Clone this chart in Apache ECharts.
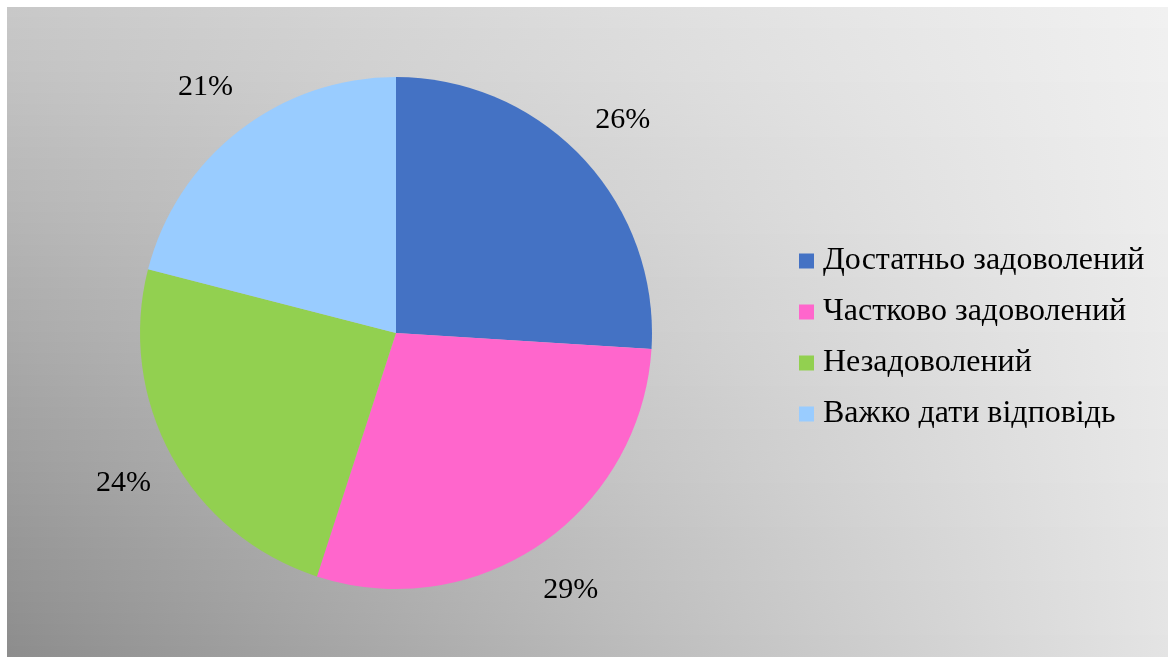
<!DOCTYPE html>
<html>
<head>
<meta charset="utf-8">
<script src="https://cdn.jsdelivr.net/npm/echarts@6/dist/echarts.min.js"></script>
<style>
  html, body { margin: 0; padding: 0; background: #ffffff; }
  #chart { width: 1168px; height: 657px; }
</style>
</head>
<body>
<div id="chart"></div>
<script>
// Survey answers: share of respondents by satisfaction level (%)
const categories = ['Достатньо задоволений', 'Частково задоволений', 'Незадоволений', 'Важко дати відповідь'];
const shares = [26, 29, 24, 21];
const sliceColors = ['#4472C4', '#FF66CC', '#92D050', '#99CCFF'];

const W = 1168, H = 657;
const panel = { x: 7, y: 7, w: W - 7, h: H - 7 };

// Grey panel shaded from dark lower-left to light upper-right (corner tones blended bilinearly)
const corner = { tl: 200, tr: 241, bl: 141, br: 228 };
function grey(v) { v = Math.round(v); return 'rgb(' + v + ',' + v + ',' + v + ')'; }
const bands = [];
const nBands = 60;
for (let i = 0; i < nBands; i++) {
  const t = (i + 0.5) / nBands;
  const left = corner.tl + (corner.bl - corner.tl) * t;
  const right = corner.tr + (corner.br - corner.tr) * t;
  const y0 = panel.y + Math.floor(panel.h * i / nBands);
  const y1 = panel.y + Math.floor(panel.h * (i + 1) / nBands);
  bands.push({
    type: 'rect',
    silent: true,
    z: -10,
    shape: { x: panel.x, y: y0, width: panel.w, height: y1 - y0 + 1 },
    style: {
      fill: new echarts.graphic.LinearGradient(0, 0, 1, 0, [
        { offset: 0, color: grey(left) },
        { offset: 1, color: grey(right) }
      ])
    }
  });
}

const pieData = categories.map((name, i) => ({ name: name, value: shares[i], itemStyle: { color: sliceColors[i] } }));
const labelData = categories.map((name, i) => ({ name: name, value: shares[i] }));

const serif = '"Liberation Serif", "DejaVu Serif", serif';

const chart = echarts.init(document.getElementById('chart'), null, { renderer: 'canvas' });
chart.setOption({
  backgroundColor: 'transparent',
  animation: false,
  graphic: { elements: bands },
  legend: {
    orient: 'vertical',
    left: 799,
    top: 245,
    padding: 0,
    itemWidth: 15,
    itemHeight: 15,
    itemGap: 19,
    icon: 'rect',
    data: categories,
    textStyle: {
      fontFamily: serif,
      fontSize: 32,
      lineHeight: 32,
      color: '#000000',
      padding: [0, 0, 0, 4]
    }
  },
  series: [
    {
      type: 'pie',
      center: [396, 333],
      radius: [0, 256],
      startAngle: 90,
      clockwise: true,
      avoidLabelOverlap: false,
      label: { show: false },
      labelLine: { show: false },
      emphasis: { disabled: true },
      itemStyle: { borderWidth: 0 },
      data: pieData
    },
    {
      // transparent ring that carries the percentage labels just outside the pie
      type: 'pie',
      center: [396, 333],
      radius: [290, 326],
      startAngle: 90,
      clockwise: true,
      silent: true,
      avoidLabelOverlap: false,
      itemStyle: { color: 'rgba(0,0,0,0)', borderWidth: 0 },
      emphasis: { disabled: true },
      labelLine: { show: false },
      label: {
        show: true,
        position: 'inside',
        formatter: '{c}%',
        fontFamily: serif,
        fontSize: 30,
        color: '#000000'
      },
      data: labelData
    }
  ]
});
</script>
</body>
</html>
